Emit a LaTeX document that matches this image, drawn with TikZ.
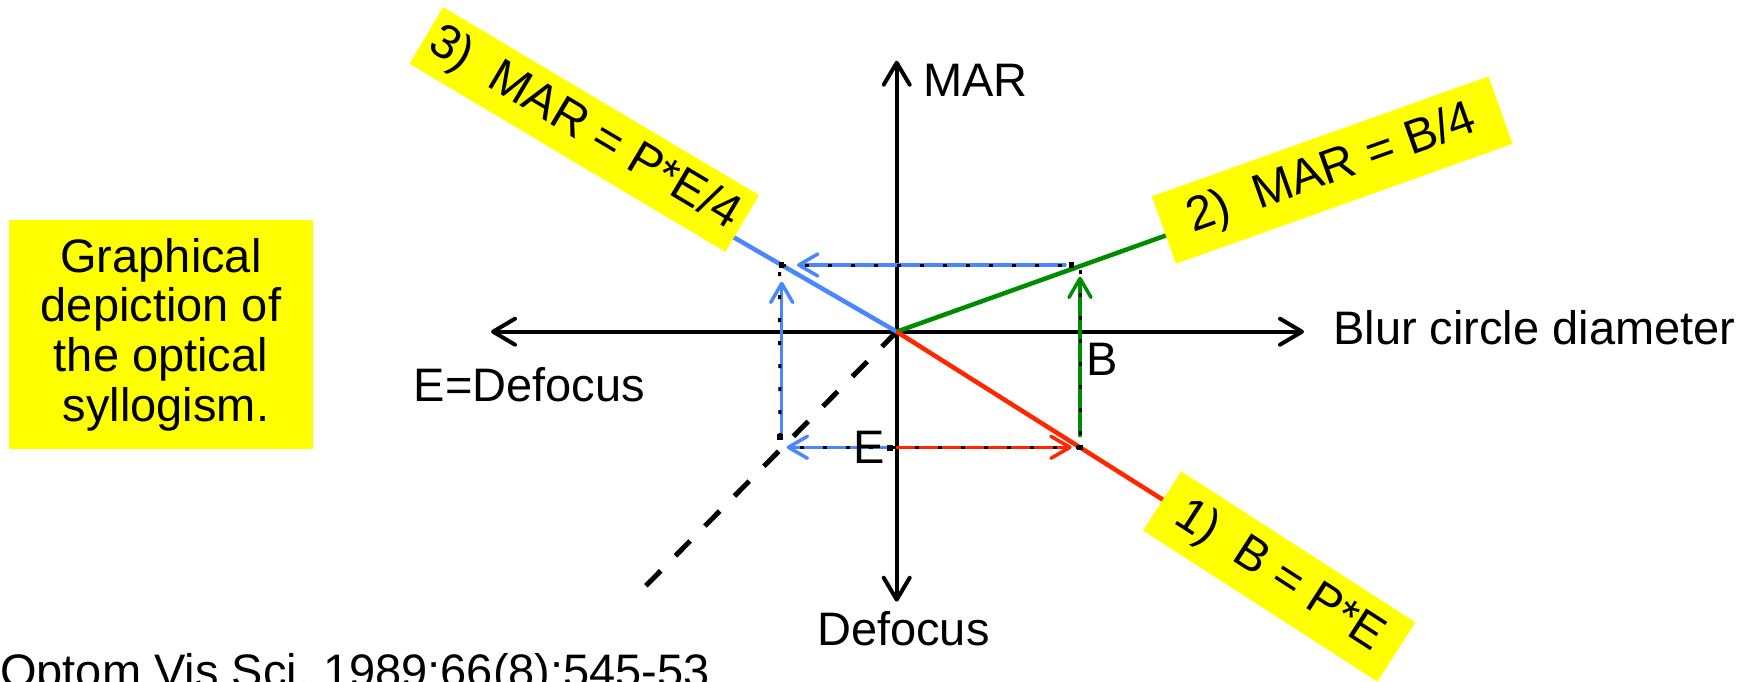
\documentclass[tikz,border=0pt]{standalone}
\usepackage{fontspec}
\setmainfont{Liberation Sans}
\usetikzlibrary{arrows.meta}
\definecolor{cblue}{RGB}{74,134,255}
\definecolor{cred}{RGB}{255,38,0}
\definecolor{cgreen}{RGB}{0,140,0}
\definecolor{cyellow}{RGB}{255,255,0}
\tikzset{
 axisline/.style={line width=4pt, {Straight Barb[length=22pt,width=26pt,round]}-{Straight Barb[length=22pt,width=26pt,round]}},
 mainline/.style={line width=4.5pt},
 diagline/.style={line width=5pt, dash pattern=on 21pt off 21pt},
 thinarrow/.style={line width=3.5pt, line cap=round, -{Straight Barb[length=19pt,width=22pt,round]}},
 blackdash/.style={line width=3pt, dash pattern=on 4pt off 19pt},
 eqbox/.style={fill=cyellow, inner sep=0pt, font=\fontsize{48}{50}\selectfont},
 lbl/.style={anchor=base west, inner sep=0pt, font=\fontsize{47}{50}\selectfont},
 cornerdot/.style={fill=black, minimum size=5.5pt, inner sep=0pt, rectangle}
}
\begin{document}
\begin{tikzpicture}[x=1pt,y=-1pt]
\useasboundingbox (0,0) rectangle (1763,682);
% axes
\coordinate (O) at (896.7,331.7);
\coordinate (axL) at (491,331.7);
\coordinate (axR) at (1304,331.7);
\coordinate (axT) at (896.7,60.7);
\coordinate (axB) at (896.7,601.7);
\draw[axisline] (axL) -- (axR);
\draw[axisline] (axB) -- (axT);
% diagonal
\coordinate (dEnd) at (644,587.7);
\draw[diagline] (O) -- (dEnd);
% main lines
\coordinate (bEnd) at (728,234);
\coordinate (gEnd) at (1170,234);
\coordinate (rEnd) at (1170,504.2);
\draw[mainline, cblue] (O) -- (bEnd);
\draw[mainline, cgreen] (O) -- (gEnd);
\draw[mainline, cred] (O) -- (rEnd);
% thin arrows
\coordinate (bt1) at (1065,265);
\coordinate (bt2) at (797,265);
\coordinate (bl1) at (781.7,436.7);
\coordinate (bl2) at (781.7,281.7);
\coordinate (bb1) at (888,447.3);
\coordinate (bb2) at (786.7,447.3);
\coordinate (rb1) at (897,447.3);
\coordinate (rb2) at (1071.7,447.3);
\coordinate (gv1) at (1080,435.7);
\coordinate (gv2) at (1080,276.7);
\draw[thinarrow, cblue] (bt1) -- (bt2);
\draw[thinarrow, cblue] (bl1) -- (bl2);
\draw[thinarrow, cblue] (bb1) -- (bb2);
\draw[thinarrow, cred] (rb1) -- (rb2);
\draw[thinarrow, cgreen] (gv1) -- (gv2);
% black dashes
\coordinate (c1) at (781.7,265);
\coordinate (c2) at (1071.7,265);
\coordinate (c3) at (1080,447.3);
\coordinate (c4) at (780,437);
\coordinate (c5) at (890,448);
\coordinate (c6) at (1080,270);
\coordinate (c7) at (786,447.3);
\coordinate (c8) at (779.5,265);
\draw[blackdash] (c1) -- (c2);
\draw[blackdash] (c6) -- (c3);
\draw[blackdash] (c3) -- (c7);
\draw[blackdash] (c4) -- (c8);
\node[cornerdot] (d1) at (c1) {};
\node[cornerdot] (d2) at (c2) {};
\node[cornerdot] (d3) at (c3) {};
\node[cornerdot] (d4) at (c4) {};
\node[cornerdot] (d5) at (c5) {};
% equation boxes
\node[eqbox, rotate=-30.75, minimum width=367.7pt, minimum height=65.9pt] (eq3) at (584.25,129.5) {3)\ \ MAR = P*E/4};
\node[eqbox, rotate=19.6, minimum width=357.4pt, minimum height=71.6pt] (eq2) at (1332.2,170.1) {2)\ \ MAR = B/4};
\node[eqbox, rotate=-32.8, minimum width=278.7pt, minimum height=70.4pt] (eq1) at (1279.25,576.45) {1)\ \ B = P*E};
% description box
\node[fill=cyellow, minimum width=304pt, minimum height=229pt, align=center, inner sep=0pt, font=\fontsize{47}{49.7}\selectfont] (desc) at (161,334.5) {Graphical\\depiction of\\the optical\\\hspace*{10pt}syllogism.};
% labels
\node[lbl] (mar) at (923,96.7) {MAR};
\node[lbl] (blur) at (1333,344.3) {Blur circle diameter};
\node[lbl] (edef) at (413.5,401.7) {E=Defocus};
\node[lbl] (def) at (817,645) {Defocus};
\node[lbl] (blab) at (1086.5,375) {B};
\node[lbl] (elab) at (853,463.3) {E};
\node[lbl] (cite) at (0,687.5) {Optom Vis Sci.\ 1989;66(8):545-53};
\end{tikzpicture}
\end{document}
